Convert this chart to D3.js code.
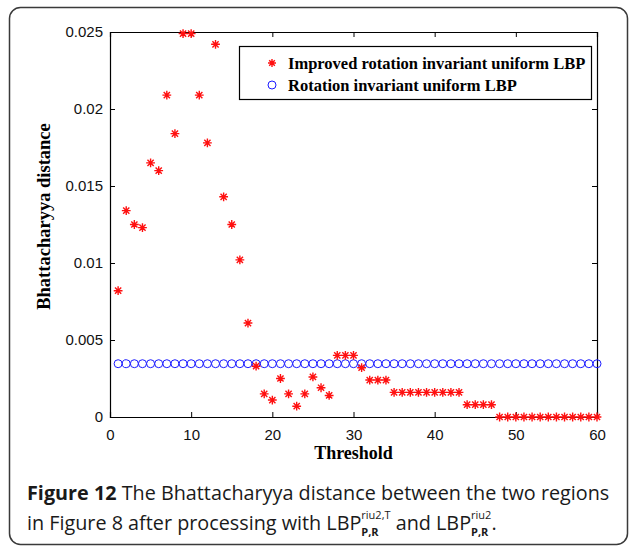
<!DOCTYPE html>
<html>
<head>
<meta charset="utf-8">
<script src="https://cdn.jsdelivr.net/npm/d3@7"></script>
<style>
  body { margin: 0; background: #fff; }
  svg { display: block; }
  text { white-space: pre; }
</style>
</head>
<body>
<div id="chart"></div>
<script>
// Chart data
const thresholds = d3.range(1, 61);
const improvedLBP = [
  0.0082, 0.0134, 0.0125, 0.0123, 0.0165, 0.0160, 0.0209, 0.0184, 0.0249, 0.0249,
  0.0209, 0.0178, 0.0242, 0.0143, 0.0125, 0.0102, 0.0061, 0.0033, 0.0015, 0.0011,
  0.0025, 0.0015, 0.0007, 0.0015, 0.0026, 0.0019, 0.0014, 0.0040, 0.0040, 0.0040,
  0.0032, 0.0024, 0.0024, 0.0024, 0.0016, 0.0016, 0.0016, 0.0016, 0.0016, 0.0016,
  0.0016, 0.0016, 0.0016, 0.0008, 0.0008, 0.0008, 0.0008, 0, 0, 0,
  0, 0, 0, 0, 0, 0, 0, 0, 0, 0
];
const standardLBP = thresholds.map(() => 0.00346);
const xTicks = [0, 10, 20, 30, 40, 50, 60];
const yTicks = [0, 0.005, 0.01, 0.015, 0.02, 0.025];
const yTickLabels = ["0", "0.005", "0.01", "0.015", "0.02", "0.025"];
const legendLabels = ["Improved rotation invariant uniform LBP", "Rotation invariant uniform LBP"];

const width = 637, height = 551;
const plot = { left: 110, right: 597, top: 32, bottom: 417 };

const svg = d3.select("#chart").append("svg")
  .attr("width", width)
  .attr("height", height);

// Outer rounded frame
svg.append("rect")
  .attr("x", 9.5).attr("y", 7.5)
  .attr("width", 618).attr("height", 537)
  .attr("rx", 11).attr("ry", 11)
  .attr("fill", "#fff")
  .attr("stroke", "#3a3a3a")
  .attr("stroke-width", 1.5);

const x = d3.scaleLinear().domain([0, 60]).range([plot.left, plot.right]);
const y = d3.scaleLinear().domain([0, 0.025]).range([plot.bottom, plot.top]);

const tickFont = "'Liberation Sans', Arial, sans-serif";
const serif = "'Liberation Serif', 'Times New Roman', serif";

// Axes (MATLAB-style: ticks inside, box around)
svg.append("g")
  .attr("transform", `translate(0,${plot.bottom})`)
  .call(d3.axisBottom(x).tickValues(xTicks).tickSize(-5).tickPadding(12));
svg.append("g")
  .attr("transform", `translate(${plot.left},0)`)
  .call(d3.axisLeft(y).tickValues(yTicks).tickSize(-5).tickPadding(7)
    .tickFormat((d, i) => yTickLabels[i]));
svg.append("g")
  .attr("transform", `translate(0,${plot.top})`)
  .call(d3.axisTop(x).tickValues(xTicks).tickSize(-5).tickFormat(""));
svg.append("g")
  .attr("transform", `translate(${plot.right},0)`)
  .call(d3.axisRight(y).tickValues(yTicks).tickSize(-5).tickFormat(""));

svg.selectAll(".domain").attr("stroke", "#000").attr("stroke-width", 1.2);
svg.selectAll(".tick line").attr("stroke", "#000");
svg.selectAll(".tick text")
  .attr("font-family", tickFont)
  .attr("font-size", 15)
  .attr("fill", "#111");

// Blue circles
svg.append("g")
  .selectAll("circle")
  .data(standardLBP)
  .join("circle")
    .attr("cx", (d, i) => x(thresholds[i]))
    .attr("cy", d => y(d))
    .attr("r", 4)
    .attr("fill", "none")
    .attr("stroke", "#1a1aff")
    .attr("stroke-width", 1);

// Red asterisks
const star = (g, s) => {
  const d = s * 0.7071;
  g.append("path")
    .attr("d", `M${-s},0H${s}M0,${-s}V${s}M${-d},${-d}L${d},${d}M${-d},${d}L${d},${-d}`)
    .attr("stroke", "#ff1010")
    .attr("stroke-width", 1.4)
    .attr("fill", "none");
};
svg.append("g")
  .selectAll("g")
  .data(improvedLBP)
  .join("g")
    .attr("transform", (d, i) => `translate(${x(thresholds[i])},${y(d)})`)
    .each(function () { star(d3.select(this), 4.4); });

// Axis titles
svg.append("text")
  .attr("x", (plot.left + plot.right) / 2)
  .attr("y", 459)
  .attr("text-anchor", "middle")
  .attr("font-family", serif)
  .attr("font-weight", "bold")
  .attr("font-size", 18)
  .text("Threshold");
svg.append("text")
  .attr("transform", `translate(50,${(plot.top + plot.bottom) / 2 - 8}) rotate(-90)`)
  .attr("text-anchor", "middle")
  .attr("font-family", serif)
  .attr("font-weight", "bold")
  .attr("font-size", 18.5)
  .text("Bhattacharyya distance");

// Legend
const legend = svg.append("g");
legend.append("rect")
  .attr("x", 239.5).attr("y", 46.5)
  .attr("width", 352).attr("height", 53)
  .attr("fill", "#fff")
  .attr("stroke", "#000")
  .attr("stroke-width", 1.2);
const lg1 = legend.append("g").attr("transform", "translate(272,63)");
star(lg1, 4);
legend.append("circle")
  .attr("cx", 272).attr("cy", 85).attr("r", 4)
  .attr("fill", "none").attr("stroke", "#1a1aff").attr("stroke-width", 1);
legend.selectAll("text.lab")
  .data(legendLabels)
  .join("text")
    .attr("class", "lab")
    .attr("x", 288)
    .attr("y", (d, i) => 68.5 + i * 22)
    .attr("font-family", serif)
    .attr("font-weight", "bold")
    .attr("font-size", 16.5)
    .text(d => d);

// Caption
const capFont = "'Open Sans', 'Noto Sans', sans-serif";
const capSize = 19.8;
const cap1 = svg.append("text")
  .attr("x", 27).attr("y", 500)
  .attr("font-family", capFont)
  .attr("font-size", capSize)
  .attr("fill", "#1a1a1a");
cap1.append("tspan").attr("font-weight", "bold").text("Figure 12");
cap1.append("tspan").text(" The Bhattacharyya distance between the two regions");

const cap2 = svg.append("g").attr("font-family", capFont).attr("fill", "#1a1a1a");
let cx = 27;
const cy = 530;
const addText = (txt, size, dy, weight) => {
  const t = cap2.append("text").attr("x", cx).attr("y", cy + dy)
    .attr("font-size", size).text(txt);
  if (weight) t.attr("font-weight", weight);
  return t.node().getComputedTextLength();
};
cx += addText("in Figure 8 after processing with LBP", capSize, 0);
const w1 = addText("riu2,T", 11, -11);
addText("P,R", 11, 6, "bold");
cx += w1;
cx += addText(" and LBP", capSize, 0);
const w2 = addText("riu2", 11, -11);
const w3 = addText("P,R", 11, 6, "bold");
cx += Math.max(w2, w3);
addText(".", capSize, 0);
</script>
</body>
</html>
